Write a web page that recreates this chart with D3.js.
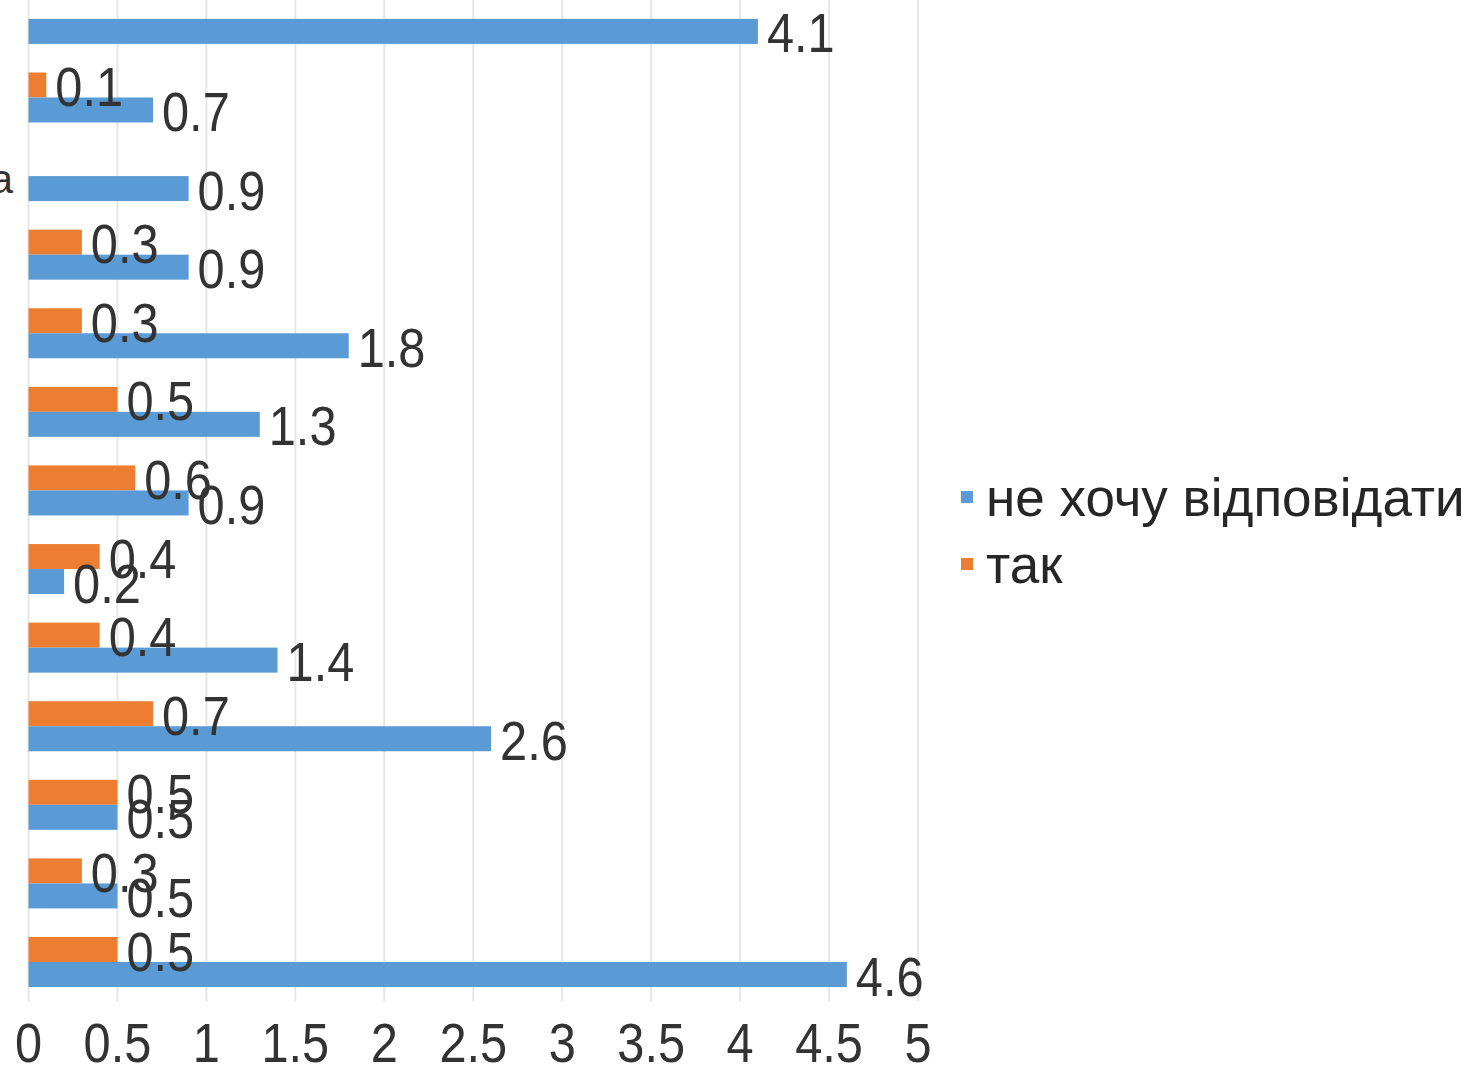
<!DOCTYPE html>
<html>
<head>
<meta charset="utf-8">
<script src="https://cdn.jsdelivr.net/npm/d3@7"></script>
<style>
  body { margin: 0; background: #fff; }
  svg { display: block; font-family: "Liberation Sans", Arial, sans-serif; }
</style>
</head>
<body>
<script>
// categories (labels are cut off in the picture, only the last letter of one shows)
var categories = ["", "", "а", "", "", "", "", "", "", "", "", "", ""];
var seriesNames = ["не хочу відповідати", "так"];
var notAnswer = [4.1, 0.7, 0.9, 0.9, 1.8, 1.3, 0.9, 0.2, 1.4, 2.6, 0.5, 0.5, 4.6];
var yes = [null, 0.1, null, 0.3, 0.3, 0.5, 0.6, 0.4, 0.4, 0.7, 0.5, 0.3, 0.5];
var xTicks = [0, 0.5, 1, 1.5, 2, 2.5, 3, 3.5, 4, 4.5, 5];
var colors = ["#5b9bd5", "#ed7d31"];

var width = 1476, height = 1069;
var plotTop = -20.4, plotBottom = 1001.3;

var svg = d3.select("body").append("svg")
    .attr("width", width)
    .attr("height", height);

svg.append("rect").attr("width", width).attr("height", height).attr("fill", "#fff");

var x = d3.scaleLinear()
    .domain([0, 5])
    .range([28.5, 918]);

var y = d3.scaleBand()
    .domain(d3.range(categories.length))
    .range([plotTop, plotBottom])
    .padding(0);

var barH = 25;
var numScale = 0.87;

// gridlines
svg.append("g")
    .selectAll("line")
    .data(xTicks)
    .enter().append("line")
    .attr("x1", function(d) { return x(d); })
    .attr("x2", function(d) { return x(d); })
    .attr("y1", 0)
    .attr("y2", plotBottom)
    .style("stroke", "#e6e6e6")
    .style("stroke-width", 2);

// tick labels
svg.append("g")
    .selectAll("text")
    .data(xTicks)
    .enter().append("text")
    .attr("transform", function(d) { return "translate(" + x(d) + ",1062) scale(" + numScale + ",1)"; })
    .attr("text-anchor", "middle")
    .style("font-size", "56px")
    .style("fill", "#333")
    .text(function(d) { return d; });

// category labels
svg.append("g")
    .selectAll("text")
    .data(categories)
    .enter().append("text")
    .attr("x", 13)
    .attr("y", function(d, i) { return y(i) + y.bandwidth() / 2 + 17; })
    .attr("text-anchor", "end")
    .style("font-size", "41px")
    .style("fill", "#333")
    .text(function(d) { return d; });

var rows = categories.map(function(c, i) { return { i: i, a: notAnswer[i], b: yes[i] }; });

function center(i) { return y(i) + y.bandwidth() / 2; }

// orange bars, above
var orangeRows = rows.filter(function(d) { return d.b != null; });
svg.append("g")
    .selectAll("rect")
    .data(orangeRows)
    .enter().append("rect")
    .attr("x", x(0))
    .attr("y", function(d) { return center(d.i) - barH; })
    .attr("width", function(d) { return x(d.b) - x(0); })
    .attr("height", barH)
    .style("fill", colors[1]);

// blue bars, below
svg.append("g")
    .selectAll("rect")
    .data(rows)
    .enter().append("rect")
    .attr("x", x(0))
    .attr("y", function(d) { return center(d.i); })
    .attr("width", function(d) { return x(d.a) - x(0); })
    .attr("height", barH)
    .style("fill", colors[0]);

// data labels
svg.append("g")
    .selectAll("text")
    .data(orangeRows)
    .enter().append("text")
    .attr("transform", function(d) {
        return "translate(" + (x(d.b) + 9) + "," + (center(d.i) - barH / 2 + 21) + ") scale(" + numScale + ",1)";
    })
    .style("font-size", "56px")
    .style("fill", "#333")
    .text(function(d) { return d.b; });

svg.append("g")
    .selectAll("text")
    .data(rows)
    .enter().append("text")
    .attr("transform", function(d) {
        return "translate(" + (x(d.a) + 9) + "," + (center(d.i) + barH / 2 + 21) + ") scale(" + numScale + ",1)";
    })
    .style("font-size", "56px")
    .style("fill", "#333")
    .text(function(d) { return d.a; });

// legend
var legend = svg.append("g")
    .selectAll("g")
    .data(seriesNames)
    .enter().append("g")
    .attr("transform", function(d, i) { return "translate(961," + (491 + i * 67) + ")"; });

legend.append("rect")
    .attr("width", 12)
    .attr("height", 12)
    .style("fill", function(d, i) { return colors[i]; });

legend.append("text")
    .attr("x", 25)
    .attr("y", 25)
    .style("font-size", "53px")
    .style("fill", "#262626")
    .text(function(d) { return d; });
</script>
</body>
</html>
